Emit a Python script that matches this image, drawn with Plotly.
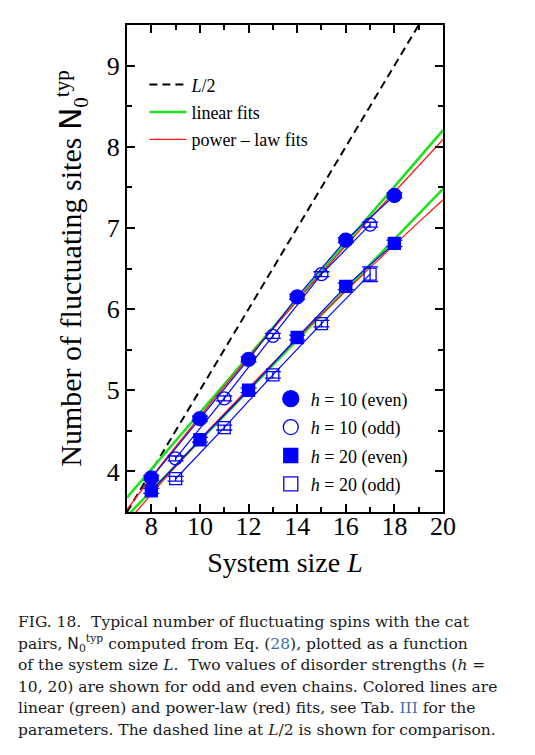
import numpy as np
import plotly.graph_objects as go

# data
L_even = [8, 10, 12, 14, 16, 18]
L_odd = [9, 11, 13, 15, 17]

h10_even = [3.92, 4.65, 5.38, 6.15, 6.85, 7.40]
h10_even_err = [0.03, 0.03, 0.03, 0.03, 0.03, 0.03]
h10_odd = [4.16, 4.90, 5.67, 6.43, 7.04]
h10_odd_err = [0.03, 0.03, 0.03, 0.03, 0.03]
h20_even = [3.76, 4.39, 5.00, 5.65, 6.28, 6.81]
h20_even_err = [0.03, 0.03, 0.03, 0.03, 0.04, 0.04]
h20_odd = [3.91, 4.54, 5.19, 5.82, 6.43]
h20_odd_err = [0.03, 0.03, 0.04, 0.04, 0.09]

# fit parameters (linear: slope, intercept ; power law: a * L**b)
lin_h10 = [0.348, 1.244]
lin_h20 = [0.310, 1.280]
pow_h10 = [0.761, 0.789]
pow_h20 = [0.7956, 0.742]

L_fit = np.linspace(7, 20, 131)
L_ref = [7, 20]

BLUE = "#0000ff"
GREEN = "#1ee01e"
RED = "#ff1a1a"
SERIF = "Liberation Serif"

fig = go.Figure()

# L/2 reference
fig.add_trace(go.Scatter(
    x=L_ref, y=[v / 2 for v in L_ref], mode="lines",
    line=dict(color="black", width=2, dash="8px,5px"),
    name="<i>L</i>/2", legend="legend", legendgroup="a"
))

# fit lines
for k, lin in enumerate([lin_h10, lin_h20]):
    fig.add_trace(go.Scatter(
        x=L_fit, y=lin[0] * L_fit + lin[1], mode="lines",
        line=dict(color=GREEN, width=2.6),
        name="linear fits", legend="legend", legendgroup="b", showlegend=(k == 0)
    ))
for k, pw in enumerate([pow_h10, pow_h20]):
    fig.add_trace(go.Scatter(
        x=L_fit, y=pw[0] * L_fit ** pw[1], mode="lines",
        line=dict(color=RED, width=1.3),
        name="power \u2013 law fits", legend="legend", legendgroup="c", showlegend=(k == 0)
    ))

series = [
    (L_even, h10_even, h10_even_err, "circle", 14, "<i>h</i> = 10 (even)"),
    (L_odd, h10_odd, h10_odd_err, "circle-open", 13, "<i>h</i> = 10 (odd)"),
    (L_even, h20_even, h20_even_err, "square", 12, "<i>h</i> = 20 (even)"),
    (L_odd, h20_odd, h20_odd_err, "square-open", 12, "<i>h</i> = 20 (odd)"),
]
for i, (xs, ys, es, sym, sz, nm) in enumerate(series):
    fig.add_trace(go.Scatter(
        x=xs, y=ys, mode="lines+markers",
        line=dict(color=BLUE, width=1.2),
        marker=dict(symbol=sym, size=sz, color=BLUE, line=dict(color=BLUE, width=1.3)),
        error_y=dict(type="data", array=es, color=BLUE, thickness=1.3, width=8),
        showlegend=False
    ))
    # legend entry with marker only
    fig.add_trace(go.Scatter(
        x=[None], y=[None], mode="markers",
        marker=dict(symbol=sym, size=sz + 2, color=BLUE, line=dict(color=BLUE, width=1.3)),
        name=nm, legend="legend2", legendgroup="m%d" % i
    ))

axis_common = dict(
    showline=True, linecolor="black", linewidth=2, mirror="allticks",
    ticks="inside", ticklen=8, tickwidth=2, tickcolor="black",
    showgrid=False, zeroline=False,
    tickfont=dict(family=SERIF, size=26, color="black"),
)
fig.update_xaxes(
    range=[7, 20], tickvals=[8, 10, 12, 14, 16, 18, 20],
    ticklabelstandoff=-10,
    minor=dict(dtick=1, ticks="inside", ticklen=5, tickwidth=1.5, tickcolor="black"),
    title=dict(text="System size <i>L</i>", font=dict(family=SERIF, size=28, color="black"), standoff=12),
    **axis_common
)
fig.update_yaxes(
    range=[3.5, 9.5], tickvals=[4, 5, 6, 7, 8, 9],
    minor=dict(dtick=0.5, ticks="inside", ticklen=5, tickwidth=1.5, tickcolor="black"),
    title=dict(
        text="Number of fluctuating sites <span style=\"font-family:'DejaVu Sans'\">N</span><sub>0</sub><sup>typ</sup>",
        font=dict(family=SERIF, size=30, color="black"), standoff=16),
    **axis_common
)

caption = [
    "FIG. 18.  Typical number of fluctuating spins with the cat",
    "pairs, <span style=\"font-family:'DejaVu Sans'\">N</span><sub>0</sub><sup>typ</sup> computed from Eq. (<span style=\"color:#3a6ea5\">28</span>), plotted as a function",
    "of the system size <i>L</i>.  Two values of disorder strengths (<i>h</i> =",
    "10, 20) are shown for odd and even chains. Colored lines are",
    "linear (green) and power-law (red) fits, see Tab. <span style=\"color:#3a6ea5\">III</span> for the",
    "parameters. The dashed line at <i>L</i>/2 is shown for comparison.",
]
cap_y0 = 622
for j, line in enumerate(caption):
    ypix = cap_y0 + j * 21.6
    fig.add_annotation(
        text=line, xref="paper", yref="paper",
        x=(16 - 127) / 316, y=(512 - ypix) / 487,
        xanchor="left", yanchor="middle", showarrow=False,
        font=dict(family="DejaVu Serif", size=15.5, color="#1a1a1a")
    )

# page has an 8px body margin, so the figure is shrunk by that amount
fig.update_layout(
    width=527, height=747,
    margin=dict(l=119, r=92, t=17, b=243),
    paper_bgcolor="white", plot_bgcolor="white",
    legend=dict(
        x=0.055, y=0.915, xanchor="left", yanchor="top",
        bgcolor="rgba(0,0,0,0)", font=dict(family=SERIF, size=18, color="black"),
        tracegroupgap=1, itemwidth=37
    ),
    legend2=dict(
        x=0.455, y=0.27, xanchor="left", yanchor="top",
        bgcolor="rgba(0,0,0,0)", font=dict(family=SERIF, size=18, color="black"),
        tracegroupgap=2, itemwidth=30
    ),
)

fig.write_html("out.html")
